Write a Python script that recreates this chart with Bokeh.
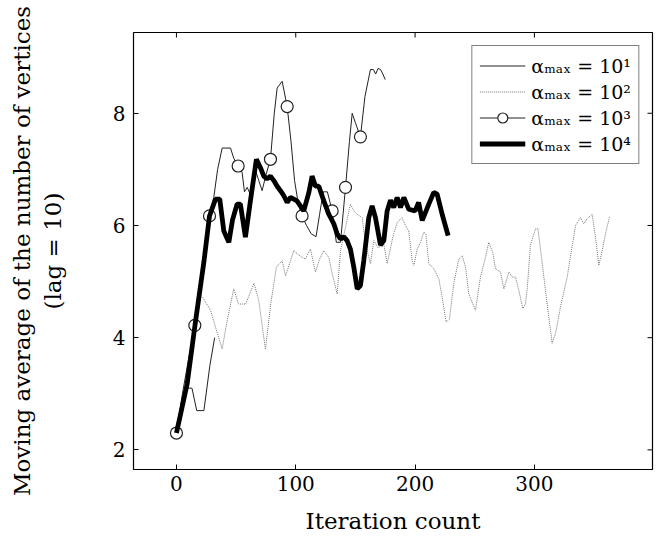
import math
from bokeh.plotting import figure
from bokeh.models import Range1d, FixedTicker, Legend, LegendItem
from bokeh.embed import file_html
from bokeh.resources import INLINE

# ---------------- data ----------------
x_ticks = [0, 100, 200, 300]
y_ticks = [2, 4, 6, 8]
x_min, x_max = -36, 399
y_min, y_max = 1.65, 9.44

# alpha_max = 10^1 (thin solid)
a1_x = [8.5, 13, 17, 23, 28, 32]
a1_y = [3.1, 3.1, 2.7, 2.7, 3.5, 4.0]

# alpha_max = 10^2 (dotted)
a2_x = [22, 28.5, 34, 38.3, 42.5, 48, 52, 58, 65, 69, 74.6, 79, 83.8, 88.6, 91.4, 95.6,
        98.3, 104, 108, 112.3, 116.5, 120, 123.5, 127.7, 131, 134.7, 137.5, 141.7, 145.8,
        149, 151.5, 155.7, 158.4, 162.6, 165.4, 169, 173.8, 176.6, 182, 185, 189, 192,
        194.7, 197.6, 199, 201.8, 204.5, 207.3, 209, 211.5, 215.7, 219.9, 222.7, 226,
        228.8, 232.4, 236.6, 239.5, 242.3, 245, 250.6, 254.8, 259, 261.8, 265.1, 267.4,
        271.6, 274.4, 278.6, 281.4, 284.2, 287, 290.3, 292.5, 294, 296.7, 300.9, 303,
        305.1, 310.7, 314.9, 317.7, 321.9, 327.5, 331.7, 334.5, 338.6, 341.4, 344.3,
        348.4, 351.2, 354, 356.8, 359.6, 363.2]
a2_y = [4.72, 4.49, 4.1, 3.8, 4.3, 4.87, 4.6, 4.6, 4.97, 4.66, 3.79, 4.6, 5.26, 5.37, 5.1, 5.37,
        5.55, 5.45, 5.4, 5.58, 5.17, 5.4, 5.55, 5.43, 5.1, 4.78, 5.55, 5.97, 6.38,
        6.25, 6.2, 6.14, 5.67, 5.32, 5.73, 5.6, 5.67, 5.32, 5.85, 6.05, 6.14, 6.0,
        5.9, 5.37, 5.29, 5.58, 5.7, 5.88, 5.85, 5.32, 5.23, 5.05, 4.72, 4.28,
        4.33, 4.96, 5.4, 5.46, 5.26, 4.78, 4.49, 5.08, 5.43, 5.7, 5.52, 5.23,
        5.17, 4.87, 5.17, 5.08, 5.08, 4.84, 4.52, 4.6, 4.87, 5.65, 5.94, 5.94,
        5.58, 4.6, 3.9, 4.07, 4.55, 5.08, 5.64, 6.0, 6.14, 6.03, 6.12,
        6.2, 5.79, 5.29, 5.55, 5.85, 6.17]

# alpha_max = 10^3 (thin solid with circles)
a3_x = [0, 5, 10, 15.4, 20, 24, 27.7, 31.3, 34.5, 38.3, 45.3, 48, 51.7, 55, 57, 59.3, 63,
        66, 69, 71.8, 75, 78.8, 82, 84.4, 88.6, 92.8, 96, 99, 102, 105.3, 109, 113, 117,
        120, 123, 126.5, 130.5, 134, 137.5, 141.7, 145, 147.3, 150, 154.2, 158, 162.6,
        165, 167, 169, 171, 173, 175]
a3_y = [2.3, 3.0, 3.6, 4.22, 4.9, 5.5, 6.17, 6.5, 7.0, 7.38, 7.38, 7.2, 7.06, 6.95, 6.6, 6.68, 6.5,
        7.0, 6.8, 6.62, 6.9, 7.18, 8.0, 8.45, 8.57, 8.12, 7.5, 6.8, 6.4, 6.17, 6.0, 5.85, 5.8,
        6.2, 6.6, 6.6, 6.26, 5.7, 5.7, 6.68, 7.5, 8.0, 7.83, 7.58, 8.3, 8.78,
        8.78, 8.7, 8.8, 8.78, 8.7, 8.6]
a3_mark_x = [0, 15.4, 27.7, 51.7, 78.8, 92.8, 105.3, 130.5, 141.7, 154.2]
a3_mark_y = [2.3, 4.22, 6.17, 7.06, 7.18, 8.12, 6.17, 6.26, 6.68, 7.58]

# alpha_max = 10^4 (thick solid)
a4_x = [0, 9, 15.4, 23, 27.7, 32.7, 36.3, 39.7, 43.9, 47, 50.8, 53.6, 57.8, 62, 67, 70.4,
        73.2, 75.9, 78.8, 81.6, 84.4, 87.2, 90, 92.8, 95.6, 98.3, 101, 106.7, 111, 113.7,
        116.5, 119.3, 123.5, 127.7, 131.9, 134.7, 137.5, 140.3, 143, 145.8, 148.6, 151.5,
        154.2, 157, 161.2, 164, 166.8, 171, 173.8, 176.6, 179.4, 182.1, 185, 187.8, 190.6,
        194.7, 200, 203, 206, 211.5, 215.7, 218.5, 222.7, 227.7]
a4_y = [2.3, 3.18, 4.2, 5.35, 6.17, 6.47, 6.47, 5.9, 5.7, 6.1, 6.38, 6.38, 5.79, 6.44, 7.18, 7.03,
        6.88, 6.83, 6.88, 6.8, 6.7, 6.62, 6.53, 6.41, 6.5, 6.47, 6.44, 6.26, 6.59, 6.88,
        6.7, 6.7, 6.44, 6.2, 6.03, 5.85, 5.76, 5.8, 5.73, 5.58, 5.26, 4.87,
        4.93, 5.37, 6.14, 6.35, 6.14, 5.65, 5.73, 6.26, 6.45, 6.32, 6.5, 6.32, 6.5,
        6.29, 6.26, 6.41, 6.09, 6.38, 6.59, 6.56, 6.2, 5.82]

labels = ["α\u2098\u2090\u2093 = 10\u00b9", "α\u2098\u2090\u2093 = 10\u00b2",
          "α\u2098\u2090\u2093 = 10\u00b3", "α\u2098\u2090\u2093 = 10\u2074"]

FONT = "DejaVu Serif"

p = figure(width=655, height=544, output_backend="svg", toolbar_location=None,
           x_range=Range1d(x_min, x_max), y_range=Range1d(y_min, y_max),
           min_border_left=133, min_border_right=3, min_border_top=32, min_border_bottom=75)
p.background_fill_color = "white"
p.border_fill_color = "white"
p.outline_line_color = "black"
p.outline_line_width = 1.2
p.grid.visible = False

r1 = p.line(a1_x, a1_y, line_color="#222222", line_width=1)
r2 = p.line(a2_x, a2_y, line_color="#777777", line_width=1, line_dash="1 1")
r3 = p.line(a3_x, a3_y, line_color="#222222", line_width=1)
r3m = p.scatter(a3_mark_x, a3_mark_y, marker="circle", size=12, fill_color="white",
                line_color="#222222", line_width=1.2)
r4 = p.line(a4_x, a4_y, line_color="black", line_width=4.8)

# mirrored tick marks on the top and right frame edges
p.ray(x=x_ticks, y=[y_max] * len(x_ticks), length=5, length_units="screen",
      angle=-math.pi / 2, line_color="black", line_width=1)
p.ray(x=[x_max] * len(y_ticks), y=y_ticks, length=5, length_units="screen",
      angle=math.pi, line_color="black", line_width=1)

xa = p.xaxis[0]
ya = p.yaxis[0]
xa.ticker = FixedTicker(ticks=x_ticks)
ya.ticker = FixedTicker(ticks=y_ticks)
for ax in (xa, ya):
    ax.axis_line_color = None
    ax.major_tick_in = 5
    ax.major_tick_out = 0
    ax.major_tick_line_color = "black"
    ax.minor_tick_line_color = None
    ax.major_label_text_font = FONT
    ax.major_label_text_font_size = "20px"
    ax.major_label_text_color = "black"
    ax.axis_label_text_font = FONT
    ax.axis_label_text_font_size = "23px"
    ax.axis_label_text_font_style = "normal"
    ax.axis_label_text_color = "black"
xa.major_label_standoff = 6
ya.major_label_standoff = 8
xa.axis_label = "Iteration count"
ya.axis_label = "Moving average of the number of vertices\n(lag = 10)"
xa.axis_label_standoff = 14
ya.axis_label_standoff = 44

legend = Legend(items=[
    LegendItem(label=labels[0], renderers=[r1]),
    LegendItem(label=labels[1], renderers=[r2]),
    LegendItem(label=labels[2], renderers=[r3, r3m]),
    LegendItem(label=labels[3], renderers=[r4]),
], location="top_right")
legend.margin = 13
legend.padding = 7
legend.spacing = 1
legend.glyph_width = 46
legend.glyph_height = 25
legend.label_height = 25
legend.label_standoff = 6
legend.label_text_font = FONT
legend.label_text_font_size = "19px"
legend.label_text_color = "black"
legend.border_line_color = "black"
legend.border_line_width = 1.2
legend.background_fill_color = "white"
legend.background_fill_alpha = 1
p.add_layout(legend)

open("out.html", "w").write(file_html(p, INLINE))
